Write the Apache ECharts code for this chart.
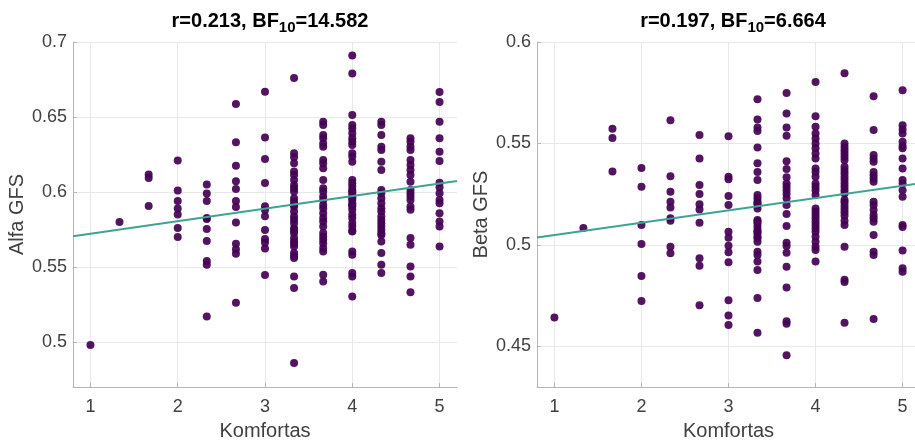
<!DOCTYPE html>
<html>
<head>
<meta charset="utf-8">
<script src="https://cdn.jsdelivr.net/npm/echarts@6/dist/echarts.min.js"></script>
<style>
    html, body { margin: 0; padding: 0; background: #fff; }
    #chart { width: 915px; height: 443px; }
</style>
</head>
<body>
<div id="chart"></div>
<script>
// Komfortas levels (x)
const komfortas = [1, 1.333, 1.667, 2, 2.333, 2.667, 3, 3.333, 3.667, 4, 4.333, 4.667, 5];

// Alfa GFS values, one list per Komfortas level
const alfaGFS = [
    [0.498],
    [0.580],
    [0.6116, 0.6094, 0.5906],
    [0.621, 0.601, 0.594, 0.589, 0.585, 0.576, 0.570],
    [0.605, 0.599, 0.594, 0.5826, 0.582, 0.5754, 0.5673, 0.554, 0.5515, 0.517],
    [0.6586, 0.6331, 0.6175, 0.6072, 0.602, 0.594, 0.590, 0.5796, 0.5655, 0.5619, 0.5588, 0.5262],
    [0.6668, 0.6364, 0.622, 0.606, 0.5905, 0.588, 0.5839, 0.5746, 0.5686, 0.5663, 0.5623, 0.5447],
    [0.676, 0.6258, 0.6231, 0.6191, 0.6136, 0.6114, 0.608, 0.6045, 0.6025, 0.6003, 0.5959, 0.5936, 0.5915, 0.5903,
     0.587, 0.5836, 0.5815, 0.5792, 0.5759, 0.5745, 0.5726, 0.5693, 0.567, 0.5655, 0.5637, 0.5593, 0.5575, 0.556,
     0.5437, 0.536, 0.486],
    [0.6468, 0.6446, 0.638, 0.6358, 0.6324, 0.6302, 0.6213, 0.6191, 0.6158, 0.608, 0.6025, 0.6003, 0.597, 0.5947,
     0.5914, 0.5892, 0.5859, 0.5826, 0.5803, 0.577, 0.5726, 0.5703, 0.5681, 0.5659, 0.5626, 0.5603, 0.5449, 0.5404],
    [0.691, 0.679, 0.6513, 0.6446, 0.6424, 0.6391, 0.6358, 0.6335, 0.6313, 0.6258, 0.6236, 0.6202, 0.608, 0.6058,
     0.6036, 0.6014, 0.6003, 0.5992, 0.597, 0.5958, 0.5947, 0.5925, 0.5914, 0.5903, 0.5881, 0.5848, 0.5826, 0.5793,
     0.577, 0.5742, 0.5737, 0.5603, 0.5582, 0.546, 0.5437, 0.5304],
    [0.6468, 0.6446, 0.638, 0.6302, 0.628, 0.6202, 0.6147, 0.6014, 0.5992, 0.5959, 0.5925, 0.5892, 0.587, 0.5836,
     0.5814, 0.5792, 0.577, 0.5748, 0.5725, 0.5714, 0.567, 0.5593, 0.5515, 0.546],
    [0.6358, 0.6335, 0.6302, 0.628, 0.6213, 0.618, 0.6147, 0.6114, 0.6069, 0.6014, 0.5992, 0.597, 0.5947, 0.5903,
     0.5881, 0.5693, 0.5648, 0.5504, 0.5437, 0.5331],
    [0.6666, 0.66, 0.6468, 0.6358, 0.6269, 0.6207, 0.6062, 0.6032, 0.5992, 0.5947, 0.5925, 0.5859, 0.5803, 0.577, 0.5637]
];

// Beta GFS values, one list per Komfortas level
const betaGFS = [
    [0.4643],
    [0.5083],
    [0.5573, 0.5527, 0.5362],
    [0.5379, 0.5287, 0.5098, 0.5005, 0.4847, 0.4724],
    [0.5615, 0.5338, 0.5262, 0.5213, 0.5185, 0.5131, 0.5119, 0.4991, 0.4959],
    [0.5542, 0.5426, 0.5295, 0.5251, 0.520, 0.5175, 0.5109, 0.4934, 0.4898, 0.4703],
    [0.5536, 0.5336, 0.5324, 0.5241, 0.5197, 0.5065, 0.5036, 0.4996, 0.4964, 0.4915, 0.4728, 0.4652, 0.4605],
    [0.5718, 0.5618, 0.5579, 0.5562, 0.548, 0.5402, 0.536, 0.532, 0.5246, 0.523, 0.5213, 0.5205, 0.5197, 0.518,
     0.5123, 0.5115, 0.5107, 0.509, 0.5074, 0.5065, 0.5057, 0.5041, 0.5033, 0.5016, 0.4967, 0.4951, 0.4918, 0.4877,
     0.4738, 0.4567],
    [0.5749, 0.5648, 0.5579, 0.5538, 0.5413, 0.5374, 0.5333, 0.5303, 0.5287, 0.527, 0.5251, 0.523, 0.5197, 0.5152,
     0.5093, 0.5011, 0.4995, 0.4962, 0.4893, 0.479, 0.4624, 0.4612, 0.4456],
    [0.5803, 0.5634, 0.5582, 0.5549, 0.5525, 0.55, 0.5476, 0.5451, 0.5426, 0.5377, 0.536, 0.5336, 0.5303, 0.5287,
     0.527, 0.5246, 0.518, 0.5164, 0.5147, 0.5131, 0.5114, 0.5098, 0.5082, 0.5065, 0.504, 0.5016, 0.4991, 0.4975,
     0.4918],
    [0.5846, 0.55, 0.5483, 0.5467, 0.5451, 0.5434, 0.5418, 0.5385, 0.5369, 0.5353, 0.5336, 0.532, 0.5303, 0.5287,
     0.527, 0.5254, 0.5221, 0.521, 0.5193, 0.5177, 0.5161, 0.5144, 0.5119, 0.5098, 0.4991, 0.4828, 0.4818, 0.4617],
    [0.5733, 0.5566, 0.5443, 0.5426, 0.541, 0.536, 0.5344, 0.5328, 0.5311, 0.5213, 0.5197, 0.5172, 0.5147, 0.5131,
     0.5114, 0.5049, 0.4967, 0.4951, 0.4635],
    [0.5762, 0.559, 0.5569, 0.5549, 0.5508, 0.5487, 0.5476, 0.5426, 0.5377, 0.532, 0.5303, 0.527, 0.5237, 0.5098,
     0.5089, 0.4972, 0.4885, 0.4868]
];

// regression lines at the x-limits
const fitX = [0.8, 5.2];
const alfaFit = [0.5705, 0.6074];
const betaFit = [0.5037, 0.5304];

const titles = [
    ['r=0.213, BF', '10', '=14.582'],
    ['r=0.197, BF', '10', '=6.664']
];

const FONT = '"Liberation Sans", Arial, sans-serif';
const DOT = '#440154';
const FIT = '#3fa393';
const TXT = '#404040';

function points(cols) {
    const out = [];
    cols.forEach((vals, i) => vals.forEach(v => out.push([komfortas[i], v])));
    return out;
}

function xAxisOpt(idx) {
    return {
        type: 'value', gridIndex: idx, min: 0.8, max: 5.2,
        name: 'Komfortas', nameLocation: 'middle', nameGap: 34,
        nameTextStyle: { fontFamily: FONT, fontSize: 20, color: TXT },
        axisLine: { onZero: false, lineStyle: { color: '#b5b5b5', width: 1 } },
        axisTick: { inside: true, length: 4, lineStyle: { color: '#b5b5b5' } },
        axisLabel: { fontFamily: FONT, fontSize: 18, color: TXT, margin: 11,
                     showMinLabel: false, showMaxLabel: false },
        splitLine: { show: true, showMinLine: false, showMaxLine: false,
                     lineStyle: { color: '#e8e8e8', width: 1 } }
    };
}

function yAxisOpt(idx, name, min, max, splitNumber) {
    return {
        type: 'value', gridIndex: idx, min: min, max: max, splitNumber: splitNumber,
        name: name, nameLocation: 'middle', nameGap: 46,
        nameTextStyle: { fontFamily: FONT, fontSize: 20, color: TXT },
        axisLine: { show: true, onZero: false, lineStyle: { color: '#b5b5b5', width: 1 } },
        axisTick: { show: true, inside: true, length: 4, lineStyle: { color: '#b5b5b5' } },
        axisLabel: { fontFamily: FONT, fontSize: 18, color: TXT, margin: 6,
                     showMinLabel: false },
        splitLine: { show: true, showMinLine: false,
                     lineStyle: { color: '#e8e8e8', width: 1 } }
    };
}

function titleOpt(t, cx) {
    return {
        text: '{b|' + t[0] + '}{s|' + t[1] + '}{b|' + t[2] + '}',
        left: cx, top: 3, textAlign: 'center',
        textStyle: {
            rich: {
                b: { fontFamily: FONT, fontSize: 20, fontWeight: 'bold', color: '#000', lineHeight: 26 },
                s: { fontFamily: FONT, fontSize: 15, fontWeight: 'bold', color: '#000',
                     padding: [13, 0, 0, 0], lineHeight: 26 }
            }
        }
    };
}

const chart = echarts.init(document.getElementById('chart'));
chart.setOption({
    animation: false,
    backgroundColor: '#fff',
    title: [titleOpt(titles[0], 265), titleOpt(titles[1], 728)],
    grid: [
        { left: 73, top: 42, width: 384, height: 345, outerBoundsMode: 'none' },
        { left: 537, top: 42, width: 383, height: 345, outerBoundsMode: 'none' }
    ],
    xAxis: [xAxisOpt(0), xAxisOpt(1)],
    yAxis: [yAxisOpt(0, 'Alfa GFS', 0.47, 0.7, 5), yAxisOpt(1, 'Beta GFS', 0.43, 0.6, 3)],
    series: [
        {
            type: 'scatter', xAxisIndex: 0, yAxisIndex: 0, data: points(alfaGFS),
            symbolSize: 8, itemStyle: { color: DOT, opacity: 0.92 }
        },
        {
            type: 'line', xAxisIndex: 0, yAxisIndex: 0, z: 5,
            data: fitX.map((x, i) => [x, alfaFit[i]]),
            showSymbol: false, lineStyle: { color: FIT, width: 2 }
        },
        {
            type: 'scatter', xAxisIndex: 1, yAxisIndex: 1, data: points(betaGFS),
            symbolSize: 8, itemStyle: { color: DOT, opacity: 0.92 }
        },
        {
            type: 'line', xAxisIndex: 1, yAxisIndex: 1, z: 5,
            data: fitX.map((x, i) => [x, betaFit[i]]),
            showSymbol: false, lineStyle: { color: FIT, width: 2 }
        }
    ]
});
</script>
</body>
</html>
